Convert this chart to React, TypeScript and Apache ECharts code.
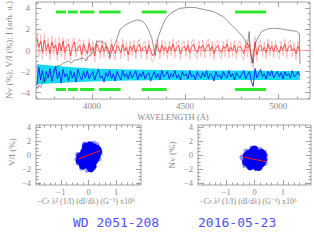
import React, { useEffect, useRef } from "react";
import * as echarts from "echarts";

// ---------- top panel data ----------
const WAVE_START = 3705; // Å, first sample of the polarimetric spectra
const WAVE_STEP = 10; // Å between samples

// N_V (%) – red noisy line
const nvValues = [
  1.2, 0.3, 0.9, -0.2, 1.0, 0.1, 0.6, -0.3, 0.8, 0.2,
  0.5, -0.4, 0.7, 0.0, 0.9, -0.2, 0.4, 0.6, -0.5, 0.3,
  0.8, -0.1, 0.2, 0.5, -0.4, 0.6, 0.1, -0.3, 0.7, 0.0,
  0.3, -0.5, 0.6, 0.2, -0.2, 0.5, -0.1, 0.4, 0.0, -0.3,
  0.6, 0.1, -0.3, 0.5, 0.2, -0.2, 0.6, 0.0, 0.3, -0.4,
  0.4, 0.1, 0.5, -0.2, 0.3, 0.6, -0.1, 0.2, 0.4, -0.3,
  0.5, 0.0, -0.5, -0.2, 0.6, 0.2, -0.2, 0.5, 0.1, 0.3,
  -0.2, 0.4, 0.1, 0.6, -0.1, 0.3, 0.5, -0.3, 0.2, 0.4,
  0.0, 0.5, -0.2, 0.3, 0.6, 0.1, -0.2, 0.4, 0.2, 0.5,
  -0.1, 0.3, 0.6, 0.0, 0.4, -0.3, 0.2, 0.5, 0.1, -0.2,
  0.4, 0.2, 0.6, -0.1, 0.3, 0.0, 0.5, -0.2, 0.3, 0.4,
  0.1, -0.3, 0.5, 0.2, 0.6, -0.6, -1.2, 0.8, -0.4, 0.3,
  0.5, 0.0, 0.3, -0.2, 0.6, 0.1, 0.4, -0.1, 0.5, 0.2,
  -0.2, 0.4, 0.1, 0.6, -0.1, 0.3, 0.5, 0.0, 0.2, -0.3, 0.4, 0.1,
];

// light red envelope around N_V
const nvEnvelope = [
  1.8, -0.6, 1.5, -0.8, 1.6, -0.5, 1.2, -0.9, 1.4, -0.4,
  1.1, -1.0, 1.3, -0.6, 1.2, -0.9, 1.0, 1.1, -1.0, 0.9,
  1.2, -0.7, 0.9, 1.1, -1.0, 1.0, -0.5, -0.9, 1.1, -0.6,
  0.9, -1.1, 1.0, 0.7, -0.8, 1.0, -0.7, 0.9, -0.5, -0.9,
  1.1, -0.5, -0.9, 1.0, 0.6, -0.8, 1.1, -0.6, 0.8, -1.0,
  0.9, -0.5, 1.0, -0.8, 0.8, 1.1, -0.7, 0.7, 0.9, -0.9,
  1.0, -0.6, -1.1, -0.8, 1.1, 0.7, -0.8, 1.0, -0.5, 0.8,
  -0.8, 0.9, -0.5, 1.1, -0.7, 0.8, 1.0, -0.9, 0.7, 0.9,
  -0.6, 1.0, -0.8, 0.8, 1.1, -0.5, -0.8, 0.9, -0.6, 1.0,
  -0.7, 0.8, 1.1, -0.6, 0.9, -0.9, 0.7, 1.0, -0.5, -0.8,
  0.9, -0.6, 1.1, -0.7, 0.8, -0.6, 1.0, -0.8, 0.8, 0.9,
  -0.5, -0.9, 1.0, -0.6, 1.1, -1.2, -1.7, 1.3, -1.0, 0.8,
  1.0, -0.6, 0.8, -0.8, 1.1, -0.5, 0.9, -0.7, 1.0, -0.6,
  -0.8, 0.9, -0.5, 1.1, -0.7, 0.8, 1.0, -0.6, 0.7, -0.9, 0.9, -0.5,
];

// V/I (%) shifted by -2.5 – blue noisy line
const vValues = [
  -3.3, -1.6, -2.8, -1.9, -3.0, -2.0, -2.6, -1.7, -2.9, -2.2,
  -1.5, -2.7, -2.0, -3.1, -1.8, -2.5, -2.2, -2.9, -1.9, -2.6,
  -2.1, -3.0, -1.8, -2.4, -2.8, -2.0, -2.6, -1.9, -2.7, -2.3,
  -2.0, -2.8, -2.2, -1.8, -2.6, -2.4, -3.0, -2.1, -2.5, -1.9,
  -2.7, -2.2, -2.9, -2.0, -2.4, -2.8, -1.9, -2.5, -2.2, -2.7,
  -2.0, -2.6, -2.3, -1.9, -2.8, -2.2, -2.5, -2.0, -2.7, -2.3,
  -2.1, -2.9, -2.4, -2.0, -2.6, -2.2, -2.8, -1.9, -2.5, -2.3,
  -2.0, -2.7, -2.2, -2.5, -1.9, -2.6, -2.3, -2.8, -2.0, -2.4,
  -2.2, -2.7, -1.9, -2.5, -2.3, -2.8, -2.0, -2.4, -2.6, -2.1,
  -2.5, -1.9, -2.7, -2.2, -2.4, -2.9, -2.0, -2.5, -2.3, -2.7,
  -2.0, -2.4, -2.6, -1.9, -2.5, -2.2, -2.8, -2.1, -2.4, -2.6,
  -2.2, -1.9, -2.7, -2.3, -2.0, -2.9, -3.4, -1.7, -2.6, -2.2,
  -1.8, -2.5, -2.2, -2.7, -2.0, -2.4, -1.9, -2.6, -2.3, -2.0,
  -2.5, -2.1, -2.7, -2.0, -2.4, -2.2, -2.6, -1.9, -2.5, -2.3, -2.0, -2.4,
];

// cyan error band around V/I
const bandLambda = [3705, 3800, 3900, 4000, 4200, 4400, 4600, 4800, 5000, 5115];
const bandUpper = [-1.3, -1.45, -1.6, -1.7, -1.8, -1.85, -1.9, -1.9, -1.95, -1.95];
const bandLower = [-3.2, -3.1, -3.0, -2.95, -2.85, -2.8, -2.8, -2.8, -2.8, -2.8];

// Stokes I (arb. units) – grey line, [wavelength, value]
const fluxPoints = [
  [3704, -3.7], [3715, -3.3], [3725, -3.5], [3739, -2.8], [3750, -2.9], [3760, -2.5],
  [3775, -2.4], [3790, -2.0], [3811, -1.5], [3830, -1.4], [3846, -1.2], [3860, -1.1],
  [3873, -1.0], [3890, -1.2], [3905, -0.9], [3918, -0.9], [3935, -0.8], [3954, -0.7],
  [3968, -1.0], [3980, -0.6], [3999, -0.3], [4015, 0.2], [4026, 0.85], [4043, 0.9],
  [4060, 0.75], [4079, 0.5], [4090, 0.0], [4097, -0.7], [4105, -0.1], [4124, 0.6],
  [4140, 1.4], [4151, 2.0], [4170, 2.3], [4187, 2.5], [4210, 2.7], [4240, 2.9],
  [4260, 2.85], [4276, 2.7], [4290, 2.4], [4302, 2.0], [4321, 1.2], [4340, -0.5],
  [4347, 0.3], [4356, 1.3], [4375, 2.2], [4392, 2.9], [4415, 3.4], [4437, 3.7],
  [4473, 4.0], [4526, 4.1], [4560, 4.05], [4598, 3.9], [4651, 3.7], [4705, 3.2],
  [4750, 2.4], [4785, 1.8], [4805, 1.4], [4821, 1.0], [4834, 0.5], [4844, 1.8],
  [4848, 0.3], [4855, -0.6], [4860, -1.2], [4866, -0.1], [4875, 0.5], [4884, 1.0],
  [4897, 1.4], [4911, 1.8], [4930, 1.95], [4946, 2.05], [4970, 2.1], [4991, 2.1],
  [5030, 2.0], [5063, 1.9], [5085, 1.85], [5099, 1.8], [5113, 1.6], [5116, -1.3],
];

// green markers of the wavelength regions used in the fit: [start, end]
const greenRanges = [
  [3807, 3861], [3870, 3924], [3936, 4013], [4038, 4154], [4267, 4401], [4768, 4934],
];
const greenLevels = [3.65, -3.7];

// ticks
const topXMajor = [4000, 4500, 5000];
const topXMinor = [3700, 3800, 3900, 4100, 4200, 4300, 4400, 4600, 4700, 4800, 4900, 5100];
const topYMajor = [-4, -2, 0, 2, 4];
const topYMinor = [-4.5, -3.5, -3, -2.5, -1.5, -1, -0.5, 0.5, 1, 1.5, 2.5, 3, 3.5, 4.5];
const lowXMajor = [-1, 0, 1];
const lowXMinor = [-1.8, -1.6, -1.4, -1.2, -0.8, -0.6, -0.4, -0.2, 0.2, 0.4, 0.6, 0.8, 1.2, 1.4, 1.6, 1.8];
const lowYMajor = [-4, -2, 0, 2, 4];
const lowYMinor = [-3.5, -3, -2.5, -1.5, -1, -0.5, 0.5, 1, 1.5, 2.5, 3, 3.5];

// ---------- lower panels data ----------
const leftCore = [
  [-0.25, -1.0], [-0.2, -0.3], [-0.15, 0.5], [-0.1, -1.3], [-0.05, 0.2], [0, -0.6], [0, 1.0],
  [0.05, -1.5], [0.1, 0.4], [0.12, -0.3], [0.18, 1.1], [0.2, -0.9], [0.25, 0.3], [0.3, -0.1],
  [-0.3, -0.2], [-0.1, 1.2], [0.05, 1.4], [0.15, -1.6], [-0.2, -1.5], [0.3, 0.9], [0.35, 0.5],
  [-0.32, -0.8], [0.08, -1.9], [0.0, -0.1], [-0.08, -0.9], [0.1, 0.9], [0.2, 0.0], [-0.18, 0.1],
  [0.1, -1.1], [0.25, -0.5],
];
const leftFringe = [
  [-0.42, -0.6], [-0.38, -1.2], [0.4, 0.8], [0.42, 0.2], [0.3, 1.5], [-0.15, 1.6],
  [0.1, -2.1], [-0.25, -1.9], [0.38, -0.6], [-0.4, 0.1], [0.2, 1.7], [-0.05, -2.2],
];
const leftFit = [[-0.37, -0.55], [0.42, 0.6]];

const rightCore = [
  [-0.25, -0.5], [-0.2, 0.2], [-0.2, -1.2], [-0.1, -0.1], [-0.1, -0.9], [-0.05, 0.6], [0, -0.5],
  [0.05, -1.6], [0.1, 0.2], [0.12, -1.0], [0.2, -0.4], [0.25, 0.3], [0.25, -1.2], [0.3, -0.7],
  [-0.28, -0.1], [-0.15, -1.6], [0.0, 0.8], [0.15, -1.7], [0.3, 0.0], [-0.3, -1.0],
  [0.05, -0.2], [-0.05, -1.2], [0.15, -0.7], [-0.15, -0.6],
];
const rightFringe = [
  [-0.45, -0.3], [-0.42, -0.5], [0.4, -0.6], [0.38, -1.2], [0.35, 0.4], [-0.1, 1.0],
  [0.05, -2.0], [-0.3, 0.6], [-0.35, -1.5], [0.2, 0.8], [0.4, -0.1],
];
const rightFit = [[-0.4, -0.3], [0.4, -0.95]];

const starName = "WD 2051-208";
const obsDate = "2016-05-23";

// ---------- styling ----------
const GREY = "#8a8a8a";
const SERIF = "'Liberation Serif', 'DejaVu Serif', serif";
const minus = (v: number) => String(v).replace("-", "\u2212");

function axesFor(kind: "x" | "y", gridIndex: number, min: number, max: number,
  major: number[], minor: number[], fontSize: number, margin: number) {
  const pos = kind === "x" ? ["bottom", "top"] : ["left", "right"];
  const base = {
    type: "value", gridIndex, min, max,
    axisLine: { show: false, onZero: false }, splitLine: { show: false },
  };
  const out: any[] = [];
  pos.forEach((p, k) => {
    out.push({
      ...base, position: p,
      axisTick: { show: true, inside: true, length: 5, customValues: major, lineStyle: { color: GREY, width: 0.8 } },
      axisLabel: k === 0
        ? { show: true, customValues: major, color: GREY, fontSize, fontFamily: SERIF, margin, formatter: minus }
        : { show: false },
    });
    out.push({
      ...base, position: p,
      axisTick: { show: true, inside: true, length: 2.5, customValues: minor, lineStyle: { color: GREY, width: 0.8 } },
      axisLabel: { show: false },
    });
  });
  return out;
}

export default function App() {
  const ref = useRef<HTMLDivElement>(null);

  useEffect(() => {
    if (!ref.current) return;
    const chart = echarts.init(ref.current, undefined, { renderer: "svg" });

    const toXY = (arr: number[]) => arr.map((v, i) => [WAVE_START + i * WAVE_STEP, v]);

    const grids = [
      { left: 36, top: 2, width: 274, height: 97 },
      { left: 36, top: 125, width: 105, height: 60 },
      { left: 198, top: 125, width: 113, height: 60 },
    ].map((g) => ({ ...g, show: true, borderColor: GREY, borderWidth: 0.8, backgroundColor: "transparent" }));

    const xAxis = [
      ...axesFor("x", 0, 3700, 5170, topXMajor, topXMinor, 9, 2),
      ...axesFor("x", 1, -1.9, 1.9, lowXMajor, lowXMinor, 8.5, 2),
      ...axesFor("x", 2, -2, 2, lowXMajor, lowXMinor, 8.5, 2),
    ];
    const yAxis = [
      ...axesFor("y", 0, -4.6, 4.6, topYMajor, topYMinor, 9, 6),
      ...axesFor("y", 1, -4.3, 4.3, lowYMajor, lowYMinor, 8.5, 5),
      ...axesFor("y", 2, -4.3, 4.3, lowYMajor, lowYMinor, 8.5, 5),
    ];

    const bandPoly = {
      type: "custom", xAxisIndex: 0, yAxisIndex: 0, silent: true,
      data: [[bandLambda[0], bandUpper[0]]],
      renderItem: (_p: any, api: any) => {
        const pts: number[][] = [];
        bandLambda.forEach((l, i) => pts.push(api.coord([l, bandUpper[i]])));
        for (let i = bandLambda.length - 1; i >= 0; i--) pts.push(api.coord([bandLambda[i], bandLower[i]]));
        return { type: "polygon", shape: { points: pts }, style: { fill: "#18d8f0" } };
      },
    };

    const greenData: number[][] = [];
    greenLevels.forEach((lv) => greenRanges.forEach(([a, b]) => greenData.push([a, b, lv])));
    const greenSeries = {
      type: "custom", xAxisIndex: 0, yAxisIndex: 0, silent: true,
      encode: { x: [0, 1], y: 2 },
      data: greenData,
      renderItem: (_p: any, api: any) => {
        const s = api.coord([api.value(0), api.value(2)]);
        const e = api.coord([api.value(1), api.value(2)]);
        return { type: "line", shape: { x1: s[0], y1: s[1], x2: e[0], y2: e[1] }, style: { stroke: "#2ee82e", lineWidth: 3 } };
      },
    };

    const line = (data: any[], color: string, width: number, extra: any = {}) => ({
      type: "line", xAxisIndex: 0, yAxisIndex: 0, data, symbol: "none", silent: true,
      lineStyle: { color, width }, ...extra,
    });

    const scat = (idx: number, data: number[][], color: string, size: number, opacity = 1) => ({
      type: "scatter", xAxisIndex: idx * 4, yAxisIndex: idx * 4, data, symbol: "circle",
      symbolSize: size, itemStyle: { color, opacity }, silent: true,
    });
    const fit = (idx: number, data: number[][]) => ({
      type: "line", xAxisIndex: idx * 4, yAxisIndex: idx * 4, data, symbol: "none", silent: true,
      lineStyle: { color: "#ff1a1a", width: 1 },
    });

    const labelStyle = { fill: GREY, fontFamily: SERIF, fontSize: 9 };
    const rich = {
      n: { fill: GREY, color: GREY, fontFamily: SERIF, fontSize: 9 },
      s: { fill: GREY, color: GREY, fontFamily: SERIF, fontSize: 6.5 },
    };
    const richSmall = {
      n: { fill: GREY, color: GREY, fontFamily: SERIF, fontSize: 8 },
      s: { fill: GREY, color: GREY, fontFamily: SERIF, fontSize: 6 },
    };
    const cLabel = "{n|\u2212C}{s|z}{n| \u03bb\u00b2 (1/I) (dI/d\u03bb) (G\u207b\u00b9) x10\u2076}";

    chart.setOption({
      animation: false,
      grid: grids,
      xAxis,
      yAxis,
      series: [
        bandPoly,
        line(toXY(nvEnvelope), "#ffb8b8", 0.9),
        line(toXY(nvValues), "#ff3030", 0.8, {
          markLine: {
            silent: true, symbol: "none", label: { show: false },
            lineStyle: { color: "#ff8080", width: 0.7, type: "solid" },
            data: [{ yAxis: 0 }],
          },
        }),
        line(toXY(vValues), "#0a0aff", 0.8),
        line(fluxPoints, "#4a4a4a", 0.6),
        greenSeries,
        scat(1, leftFringe, "#8080ff", 5, 0.8),
        scat(1, leftCore, "#0000f0", 8),
        fit(1, leftFit),
        scat(2, rightFringe, "#8080ff", 5, 0.8),
        scat(2, rightCore, "#0000f0", 8),
        fit(2, rightFit),
      ],
      graphic: [
        {
          type: "text", x: 9, y: 50, rotation: Math.PI / 2,
          style: { text: "{n|N}{s|V}{n| (%); V/I (%); I (arb. u.)}", rich, align: "center", verticalAlign: "middle" },
        },
        {
          type: "text", x: 173, y: 117,
          style: { ...labelStyle, fontSize: 8.5, text: "WAVELENGTH (\u00c5)", align: "center", verticalAlign: "middle" },
        },
        {
          type: "text", x: 12, y: 152, rotation: Math.PI / 2,
          style: { ...labelStyle, text: "V/I (%)", align: "center", verticalAlign: "middle" },
        },
        {
          type: "text", x: 172, y: 155, rotation: Math.PI / 2,
          style: { text: "{n|N}{s|V}{n| (%)}", rich, align: "center", verticalAlign: "middle" },
        },
        {
          type: "text", x: 86, y: 201,
          style: { text: cLabel, rich: richSmall, align: "center", verticalAlign: "middle" },
        },
        {
          type: "text", x: 248, y: 201,
          style: { text: cLabel, rich: richSmall, align: "center", verticalAlign: "middle" },
        },
        {
          type: "text", x: 73, y: 222,
          style: { text: starName, fill: "#4f4fff", fontFamily: "'DejaVu Sans Mono', monospace", fontSize: 13, verticalAlign: "middle" },
        },
        {
          type: "text", x: 198, y: 222,
          style: { text: obsDate, fill: "#4f4fff", fontFamily: "'DejaVu Sans Mono', monospace", fontSize: 13, verticalAlign: "middle" },
        },
      ],
    });

    return () => chart.dispose();
  }, []);

  return <div ref={ref} style={{ width: 314, height: 240, position: "absolute", left: 0, top: 0 }} />;
}
